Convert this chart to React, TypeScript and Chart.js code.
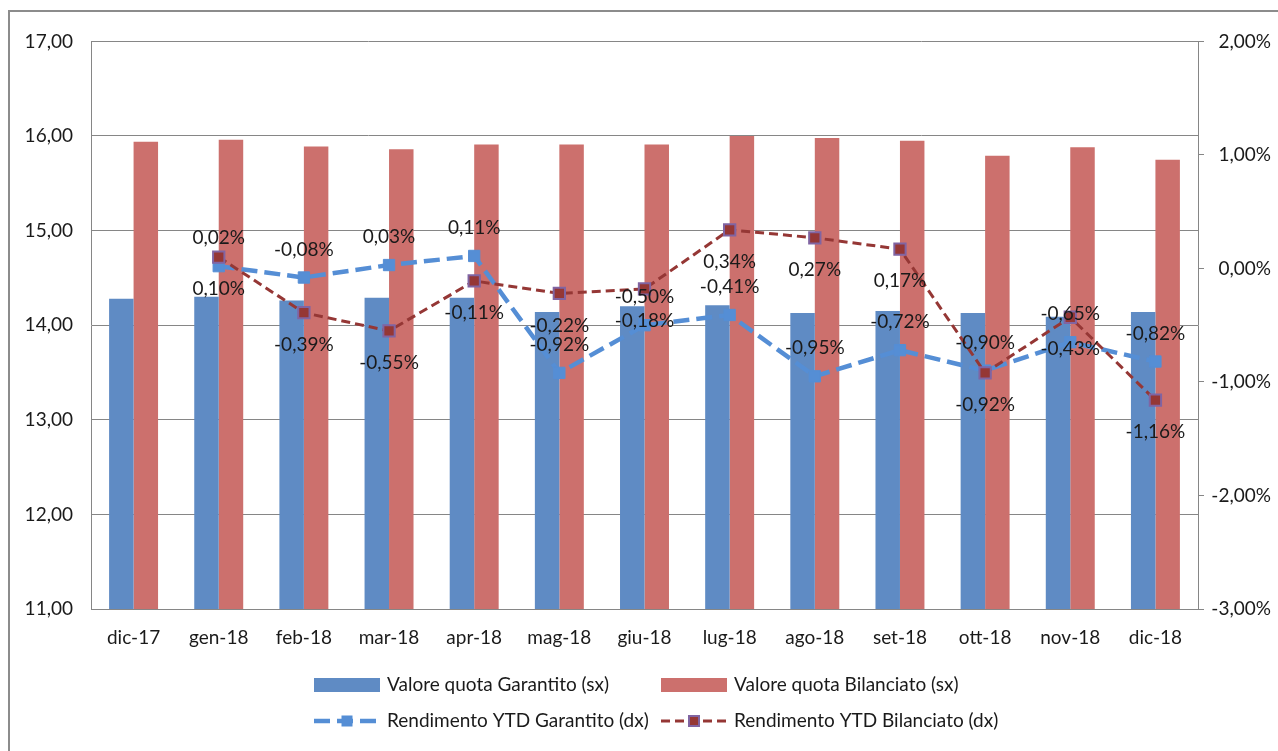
import { useEffect, useRef } from 'react';
import { Chart, registerables } from 'chart.js';

Chart.register(...registerables);

const categories = ['dic-17', 'gen-18', 'feb-18', 'mar-18', 'apr-18', 'mag-18', 'giu-18', 'lug-18', 'ago-18', 'set-18', 'ott-18', 'nov-18', 'dic-18'];
const valoreGarantito = [14.28, 14.30, 14.26, 14.29, 14.29, 14.14, 14.20, 14.21, 14.13, 14.15, 14.13, 14.09, 14.14];
const valoreBilanciato = [15.94, 15.96, 15.89, 15.86, 15.91, 15.91, 15.91, 16.00, 15.98, 15.95, 15.79, 15.88, 15.75];
const rendGarantito = [null, 0.02, -0.08, 0.03, 0.11, -0.92, -0.50, -0.41, -0.95, -0.72, -0.90, -0.65, -0.82];
const rendBilanciato = [null, 0.10, -0.39, -0.55, -0.11, -0.22, -0.18, 0.34, 0.27, 0.17, -0.92, -0.43, -1.16];
const seriesLabels = [
  'Valore quota Garantito (sx)',
  'Valore quota Bilanciato (sx)',
  'Rendimento YTD Garantito (dx)',
  'Rendimento YTD Bilanciato (dx)',
];
const leftAxis = { min: 11, max: 17, step: 1 };
const rightAxis = { min: -3, max: 2, step: 1 };

const FONT = 'Lato, "Open Sans", sans-serif';
const FSIZE = 19;
const TEXT = '#1a1a1a';
const GRID = '#868686';

const fmtNum = (v: number) => v.toFixed(2).replace('.', ',');
const fmtPct = (v: number) => v.toFixed(2).replace('.', ',') + '%';

const pointLabelPlugin = {
  id: 'pointLabels',
  afterDatasetsDraw(chart: any) {
    const ctx = chart.ctx;
    ctx.save();
    ctx.font = `${FSIZE}px ${FONT}`;
    ctx.fillStyle = TEXT;
    ctx.textAlign = 'center';
    ctx.textBaseline = 'middle';
    const cfg: [number, number][] = [[2, -28], [3, 32]];
    cfg.forEach(([di, off]) => {
      const meta = chart.getDatasetMeta(di);
      const data = chart.data.datasets[di].data;
      meta.data.forEach((pt: any, i: number) => {
        const v = data[i];
        if (v == null) return;
        ctx.fillText(fmtPct(v), pt.x, pt.y + off);
      });
    });
    ctx.restore();
  },
};

const legendPlugin = {
  id: 'gridLegend',
  afterDraw(chart: any) {
    const ctx = chart.ctx;
    const cols = [304, 651];
    const rows = [673, 709];
    ctx.save();
    ctx.font = `${FSIZE}px ${FONT}`;
    ctx.textBaseline = 'middle';
    ctx.textAlign = 'left';
    chart.data.datasets.forEach((d: any, i: number) => {
      const x = cols[i % 2];
      const y = rows[Math.floor(i / 2)];
      if (d.type === 'bar') {
        ctx.fillStyle = d.backgroundColor;
        ctx.fillRect(x, y - 7, 66, 14);
      } else {
        ctx.save();
        ctx.strokeStyle = d.borderColor;
        ctx.lineWidth = d.borderWidth;
        ctx.setLineDash(d.borderDash);
        ctx.beginPath();
        ctx.moveTo(x, y);
        ctx.lineTo(x + 66, y);
        ctx.stroke();
        ctx.setLineDash([]);
        const s = 10;
        ctx.fillStyle = d.pointBackgroundColor;
        ctx.fillRect(x + 33 - s / 2, y - s / 2, s, s);
        ctx.strokeStyle = d.pointBorderColor;
        ctx.lineWidth = d.pointBorderWidth;
        ctx.strokeRect(x + 33 - s / 2, y - s / 2, s, s);
        ctx.restore();
      }
      ctx.fillStyle = TEXT;
      ctx.fillText(d.label, x + 73, y);
    });
    ctx.restore();
  },
};

export default function App() {
  const ref = useRef<HTMLCanvasElement | null>(null);

  useEffect(() => {
    if (!ref.current) return;
    const chart = new Chart(ref.current, {
      type: 'bar',
      data: {
        labels: categories,
        datasets: [
          {
            type: 'bar',
            label: seriesLabels[0],
            data: valoreGarantito,
            backgroundColor: '#5f8bc4',
            yAxisID: 'y',
            order: 3,
            categoryPercentage: 0.575,
            barPercentage: 1.0,
          },
          {
            type: 'bar',
            label: seriesLabels[1],
            data: valoreBilanciato,
            backgroundColor: '#cc706d',
            yAxisID: 'y',
            order: 3,
            categoryPercentage: 0.575,
            barPercentage: 1.0,
          },
          {
            type: 'line',
            label: seriesLabels[2],
            data: rendGarantito,
            yAxisID: 'y1',
            order: 2,
            borderColor: '#558ed5',
            borderWidth: 4.5,
            borderDash: [16, 7],
            borderCapStyle: 'butt',
            pointStyle: 'rect',
            pointRadius: 8,
            pointBackgroundColor: '#558ed5',
            pointBorderColor: '#558ed5',
            pointBorderWidth: 1,
            spanGaps: false,
            tension: 0,
          } as any,
          {
            type: 'line',
            label: seriesLabels[3],
            data: rendBilanciato,
            yAxisID: 'y1',
            order: 1,
            borderColor: '#953735',
            borderWidth: 3,
            borderDash: [9, 5],
            borderCapStyle: 'butt',
            pointStyle: 'rect',
            pointRadius: 8,
            pointBackgroundColor: '#953735',
            pointBorderColor: '#8064a2',
            pointBorderWidth: 2,
            tension: 0,
          } as any,
        ],
      },
      options: {
        animation: false,
        responsive: false,
        maintainAspectRatio: false,
        layout: { padding: { top: 28, left: 0, right: 7, bottom: 0 } },
        plugins: {
          legend: { display: false },
          tooltip: { enabled: false },
        },
        scales: {
          x: {
            grid: { display: false },
            border: { display: true, color: GRID, width: 1 },
            ticks: { padding: 9, color: TEXT, font: { family: FONT, size: FSIZE } },
            afterFit: (s: any) => { s.height = 142; },
          },
          y: {
            position: 'left',
            min: leftAxis.min,
            max: leftAxis.max,
            grid: { color: GRID, drawTicks: false, lineWidth: 1 },
            border: { display: true, color: GRID },
            ticks: {
              stepSize: leftAxis.step,
              padding: 18,
              color: TEXT,
              font: { family: FONT, size: FSIZE },
              callback: (v: any) => fmtNum(Number(v)),
            },
            afterFit: (s: any) => { s.width = 81; },
          },
          y1: {
            position: 'right',
            min: rightAxis.min,
            max: rightAxis.max,
            grid: { drawOnChartArea: false, color: GRID, tickLength: 6 },
            border: { display: true, color: GRID },
            ticks: {
              stepSize: rightAxis.step,
              padding: 11,
              crossAlign: 'far',
              color: TEXT,
              font: { family: FONT, size: FSIZE },
              callback: (v: any) => fmtPct(Number(v)),
            },
            afterFit: (s: any) => { s.width = 73; },
          },
        },
      } as any,
      plugins: [pointLabelPlugin, legendPlugin],
    });
    return () => chart.destroy();
  }, []);

  return (
    <div
      style={{
        position: 'absolute',
        left: 8,
        top: 10,
        width: 1270,
        height: 741,
        boxSizing: 'border-box',
        borderTop: '2px solid #8c8c8c',
        borderLeft: '2px solid #8c8c8c',
        background: '#fff',
      }}
    >
      <canvas ref={ref} width={1268} height={739} style={{ display: 'block', width: 1268, height: 739 }} />
    </div>
  );
}
